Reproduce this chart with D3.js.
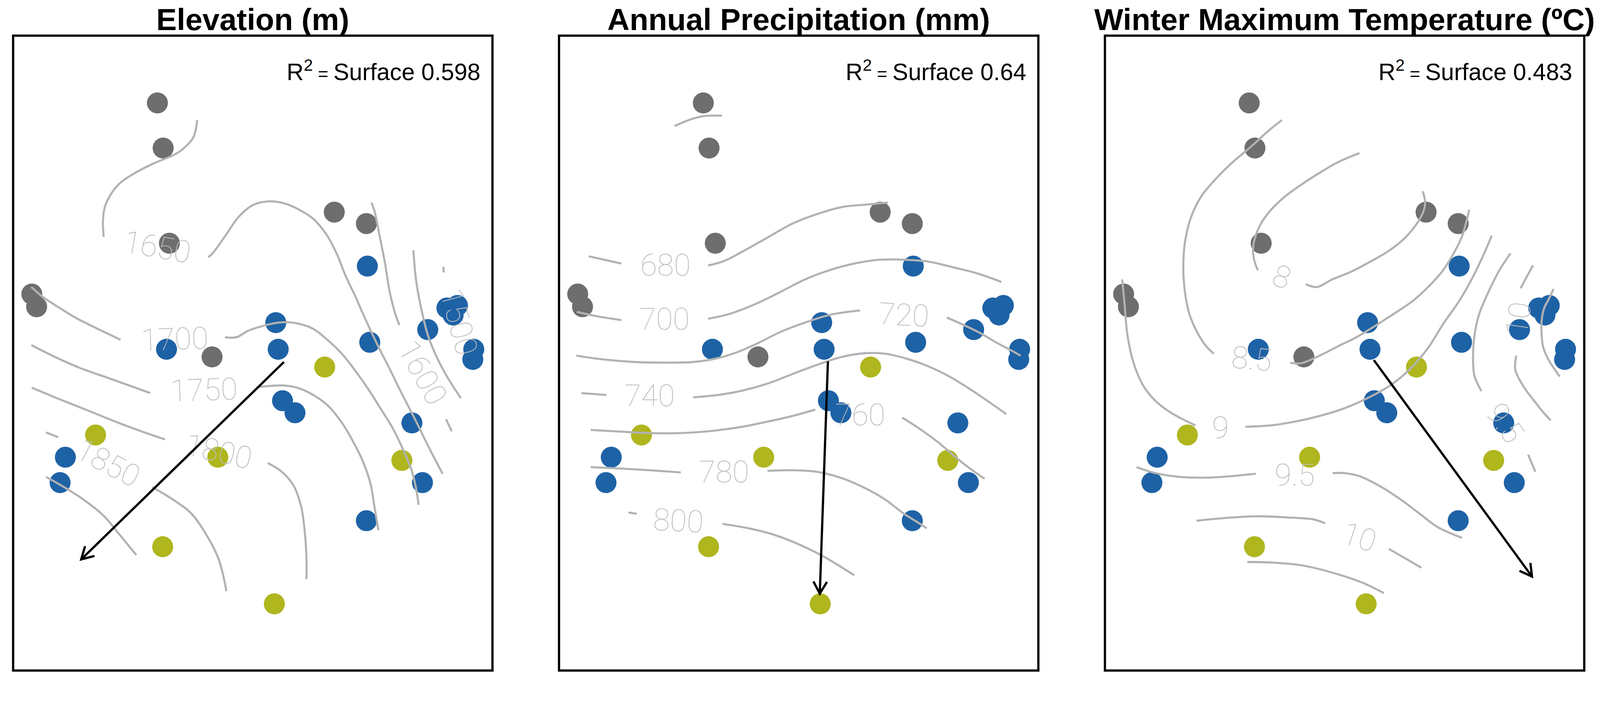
<!DOCTYPE html>
<html>
<head>
<meta charset="utf-8">
<script src="https://cdn.jsdelivr.net/npm/d3@7"></script>
<style>
  html, body { margin: 0; padding: 0; background: #fff; overflow: hidden; }
  svg { display: block; }
</style>
</head>
<body>
<div id="chart"></div>
<script>
// Site scores, in percent of the plot frame (x from left, y from top)
const grayPts = [[30.1,10.6],[31.3,17.7],[32.6,32.7],[3.9,40.7],[4.9,42.7],[41.5,50.6],[67.0,27.8],[73.7,29.6]];
const bluePts = [[73.9,36.3],[54.8,45.2],[55.3,49.4],[32.0,49.4],[74.4,48.3],[86.5,46.3],[90.5,42.9],[92.7,42.5],
                 [91.8,44.0],[96.1,49.4],[95.9,51.0],[56.2,57.5],[58.8,59.4],[83.2,61.0],[85.4,70.4],[73.7,76.4],
                 [10.9,66.4],[9.8,70.4]];
const olivePts = [[65.0,52.2],[17.2,62.9],[42.7,66.4],[81.1,66.9],[31.2,80.5],[54.5,89.5]];

const panelTitles = ["Elevation (m)", "Annual Precipitation (mm)", "Winter Maximum Temperature (ºC)"];
const r2Values = ["0.598", "0.64", "0.483"];
// fitted vector: [x0, y0, x1, y1]
const arrows = [[56.5,51.4,14.2,82.5],[56.1,51.3,54.4,87.9],[56.1,51.1,89.1,85.2]];

// ordisurf contours: level, line pieces, label [x, y, angle]
const elevContours = [
  { level: "1650", label: [30.1,33.3,10], pieces: [
    [[38.4,13.3],[37.6,16.0],[35.0,18.1],[33.2,18.9],[29.4,20.1],[25.5,21.6],[21.9,23.5],[19.3,26.6],[18.75,29.1],[18.9,31.7]],
    [[40.7,34.9],[41.6,34.3],[44.2,31.6],[47.1,28.5],[50.0,26.7],[53.3,26.1],[56.5,26.4],[59.4,27.3],[62.7,28.9],[65.6,31.6],
     [67.6,34.5],[69.4,37.9],[71.3,40.9],[73.1,44.0],[75.0,47.1],[76.8,49.9],[78.7,52.7],[80.5,55.5],[82.4,58.3],[84.3,61.1],
     [86.1,63.9],[88.0,66.7],[89.6,69.0]]]},
  { level: "1600", label: [85.4,53.1,61], pieces: [
    [[74.75,26.3],[75.35,27.5],[76.5,31.7],[77.6,35.9],[78.5,40.1],[79.6,43.5],[80.6,45.6]],
    [[90.3,60.4],[91.5,62.3]]]},
  { level: "1550", label: null, pieces: [
    [[83.5,33.8],[84.1,38.7],[85.2,43.2],[86.5,47.1],[88.3,50.5],[90.6,53.8],[93.4,57.1]]]},
  { level: "1500", label: [93.0,45.1,75], pieces: [
    [[89.8,36.4],[89.8,37.3]]]},
  { level: "1700", label: [33.7,47.8,-2], pieces: [
    [[3.8,39.6],[6.1,41.1],[9.3,42.7],[13.2,44.5],[17.7,46.2],[22.4,47.9]],
    [[44.2,47.5],[46.6,47.5],[49.0,46.5],[52.7,45.6],[55.3,45.2],[58.3,45.2],[62.4,46.1],[65.7,48.0],[68.7,50.2],[71.6,53.0],
     [74.2,55.8],[76.8,58.9],[79.1,61.7],[81.3,65.1],[83.1,68.4],[83.9,70.7],[84.6,73.9]]]},
  { level: "1750", label: [39.8,55.8,-2], pieces: [
    [[3.8,48.75],[8.7,50.6],[13.8,52.3],[19.0,53.7],[24.2,55.1],[28.6,56.3]],
    [[50.85,55.4],[53.1,55.2],[56.4,55.1],[59.0,55.4],[62.4,56.5],[65.7,58.3],[68.7,61.1],[70.9,63.9],[73.1,67.3],[74.6,70.7],
     [75.3,73.8],[76.2,77.9]]]},
  { level: "1800", label: [42.9,65.5,13], pieces: [
    [[3.9,55.45],[9.3,57.15],[15.8,59.1],[22.2,61.05],[27.4,62.5],[31.7,63.6]],
    [[53.1,67.3],[55.9,68.6],[58.45,70.8],[60.1,74.2],[60.9,78.6],[61.2,82.5],[61.2,85.6]]]},
  { level: "1850", label: [19.8,67.3,28], pieces: [
    [[6.85,62.5],[9.4,63.25]],
    [[29.0,71.1],[33.2,73.0],[37.1,75.2],[40.3,78.6],[42.9,82.5],[44.5,87.5]]]},
  { level: "1900", label: null, pieces: [
    [[6.85,69.5],[10.6,71.1],[15.1,73.3],[19.0,75.7],[22.2,78.6],[25.7,81.8]]]}
];

const precipContours = [
  { level: "660", label: null, pieces: [
    [[24.1,14.24],[26.7,13.4],[29.9,12.7],[34.0,12.6]]]},
  { level: "680", label: [22.2,36.1,0], pieces: [
    [[6.2,34.75],[13.0,35.9]],
    [[31.1,36.2],[34.4,35.5],[38.3,34.0],[43.5,31.8],[48.7,29.6],[53.85,28.1],[59.0,27.0],[64.2,26.6],[68.6,26.3]]]},
  { level: "700", label: [22.0,44.6,0], pieces: [
    [[3.7,43.5],[7.9,44.2],[13.0,44.8]],
    [[31.1,44.6],[35.7,43.8],[40.9,42.3],[46.1,40.4],[51.3,38.4],[56.4,36.95],[61.6,35.9],[66.8,35.3],[71.95,35.3],[77.1,35.6],
     [82.3,36.5],[87.5,37.5],[92.3,38.8]]]},
  { level: "720", label: [71.95,44.0,3], pieces: [
    [[3.6,50.4],[9.2,51.0],[15.7,51.4],[22.2,51.5],[28.0,51.4],[32.5,50.9],[37.0,49.9],[41.6,48.4],[46.1,46.7],[51.3,45.2],
     [56.4,44.0],[60.3,43.5],[62.8,43.3]],
    [[80.9,44.4],[84.2,45.5],[87.5,46.7],[91.4,48.4],[93.9,49.4],[96.3,50.4]]]},
  { level: "740", label: [18.9,56.7,0], pieces: [
    [[4.7,56.3],[9.9,56.6]],
    [[28.0,56.97],[33.2,56.6],[38.3,55.9],[43.5,54.8],[48.7,53.3],[53.85,51.85],[59.0,50.6],[64.2,50.0],[68.1,50.1],[72.6,50.9],
     [77.1,52.1],[81.7,53.8],[86.2,55.9],[90.1,57.9],[93.3,59.6]]]},
  { level: "760", label: [62.8,59.7,0], pieces: [
    [[6.6,62.1],[12.5,62.35],[18.9,62.6],[25.4,62.6],[31.9,62.25],[38.3,61.6],[43.5,60.8],[48.7,59.9],[53.5,58.9]],
    [[71.6,60.15],[75.2,61.9],[79.1,64.05],[82.9,66.5],[86.2,68.45],[88.8,69.8]]]},
  { level: "780", label: [34.4,68.7,0], pieces: [
    [[6.6,67.96],[15.7,68.3],[25.4,68.8]],
    [[43.5,68.55],[48.7,68.45],[53.85,68.7],[59.0,69.7],[64.2,71.4],[68.1,73.1],[71.95,75.3],[74.5,76.5],[76.7,77.6]]]},
  { level: "800", label: [24.9,76.4,3], pieces: [
    [[14.5,75.1],[16.2,75.3]],
    [[34.1,76.9],[39.6,77.6],[44.8,78.6],[49.96,80.1],[55.1,82.0],[61.6,85.0]]]}
];

const tempContours = [
  { level: "8.5", label: [30.6,50.9,5], pieces: [
    [[36.9,13.3],[33.8,15.2],[30.6,17.4],[26.7,19.9],[23.45,22.3],[20.2,25.2],[17.96,28.6],[16.7,32.55],[16.35,36.5],[16.7,40.4],
     [17.6,43.8],[18.9,46.2],[20.9,48.7],[22.7,50.1]],
    [[38.65,51.5],[40.9,51.6],[44.8,50.4],[48.7,48.9],[52.6,47.45],[56.4,45.7],[60.3,43.8],[64.2,41.8],[67.4,39.6],[70.3,37.2],
     [72.6,34.5],[74.5,31.6],[76.0,27.4]]]},
  { level: "8", label: [36.9,38.0,20], pieces: [
    [[53.1,18.5],[48.7,19.9],[44.8,21.6],[40.9,23.5],[37.0,25.7],[33.8,28.2],[31.9,30.6],[30.9,33.5],[31.2,35.5],[31.9,36.95]],
    [[41.9,39.15],[44.2,39.6],[47.4,38.4],[51.3,37.2],[55.1,35.7],[59.0,34.0],[62.25,32.1],[64.8,29.9],[66.45,27.7],[66.8,26.2],
     [66.3,24.5]]]},
  { level: "9", label: [24.1,61.7,0], pieces: [
    [[3.6,38.4],[4.1,42.3],[4.7,47.2],[6.0,51.6],[7.9,55.0],[10.5,57.5],[13.8,59.4],[18.9,61.4]],
    [[29.3,61.6],[34.45,61.4],[39.6,60.8],[44.8,59.9],[49.96,58.7],[55.1,56.97],[59.7,55.0],[63.55,52.6],[67.4,49.2],[70.7,45.25],
     [73.9,41.8],[76.5,38.4],[78.7,35.0],[80.7,31.5]]]},
  { level: "9.5", label: [83.5,61.0,55], pieces: [
    [[84.6,34.3],[82.3,36.95],[80.0,40.4],[78.1,43.8],[77.1,47.2],[76.8,51.1],[77.1,53.6],[78.55,56.0]],
    [[88.3,66.0],[89.8,68.7]]]},
  { level: "10", label: [86.3,44.6,-82], pieces: [
    [[89.3,36.2],[86.7,39.8]],
    [[85.8,50.4],[85.6,52.6],[86.5,54.2],[88.0,56.0],[90.0,57.95],[91.4,59.3],[93.0,60.6]]]},
  { level: "10.5", label: null, pieces: [
    [[93.6,39.9],[92.6,41.5],[91.6,43.0],[91.1,45.0],[91.1,47.0],[91.4,48.95],[92.3,50.7],[93.5,52.2],[94.9,53.7]]]},
  { level: "9.5", label: [39.6,69.2,0], pieces: [
    [[6.6,67.96],[10.5,68.9],[15.7,69.5],[22.2,69.6],[31.5,69.0]],
    [[47.5,68.9],[49.96,68.9],[53.2,69.4],[57.7,71.1],[61.6,73.0],[65.5,75.2],[69.4,77.4],[74.5,79.1]]]},
  { level: "10", label: [53.1,79.0,18], pieces: [
    [[19.1,76.4],[25.4,75.95],[31.9,75.7],[38.3,75.9],[43.5,76.2],[45.96,76.8]],
    [[59.2,80.84],[62.6,82.3],[66.0,83.8]]]},
  { level: "10.5", label: null, pieces: [
    [[29.7,82.9],[35.1,83.0],[41.6,83.5],[48.0,84.7],[53.85,86.2],[58.2,87.8]]]}
];

const panelContours = [elevContours, precipContours, tempContours];

// Layout (drawn in a 4266 x 1827 user space, scaled to the window width)
const W = 4266, H = 1827;
const frameW = 1278, frameTop = 95, frameBottom = 1787;
const panelStep = 1455.5, firstLeft = 35;

const svg = d3.select("#chart").append("svg")
  .attr("viewBox", `0 0 ${W} ${H}`)
  .attr("preserveAspectRatio", "xMidYMin meet")
  .style("width", "100vw")
  .style("height", "100vh")
  .style("background", "#fff");

// open V arrowhead
svg.append("defs").append("marker")
  .attr("id", "vhead")
  .attr("markerUnits", "userSpaceOnUse")
  .attr("viewBox", "-40 -25 50 50")
  .attr("refX", 0).attr("refY", 0)
  .attr("markerWidth", 50).attr("markerHeight", 50)
  .attr("orient", "auto")
  .append("path")
  .attr("d", "M-32,-18 L0,0 L-32,18")
  .attr("fill", "none")
  .attr("stroke", "#000")
  .attr("stroke-width", 6)
  .attr("stroke-linejoin", "miter");

const groups = [
  { pts: grayPts, color: "#6e6e6e" },
  { pts: bluePts, color: "#1e62a6" },
  { pts: olivePts, color: "#afb61e" }
];

panelContours.forEach((contours, i) => {
  const left = firstLeft + i * panelStep;
  const x = d3.scaleLinear().domain([0, 100]).range([left, left + frameW]);
  const y = d3.scaleLinear().domain([0, 100]).range([frameTop, frameBottom]);
  const g = svg.append("g");

  // sites
  groups.forEach(grp => {
    g.append("g").selectAll("circle")
      .data(grp.pts)
      .enter().append("circle")
      .attr("cx", d => x(d[0]))
      .attr("cy", d => y(d[1]))
      .attr("r", 28)
      .attr("fill", grp.color);
  });

  // contour lines
  const line = d3.line()
    .x(d => x(d[0]))
    .y(d => y(d[1]))
    .curve(d3.curveCatmullRom);

  contours.forEach(c => {
    c.pieces.forEach(p => {
      g.append("path")
        .attr("d", line(p))
        .attr("fill", "none")
        .attr("stroke", "#b2b2b2")
        .attr("stroke-width", 5.5)
        .attr("stroke-linecap", "butt");
    });
    if (c.label) {
      g.append("text")
        .attr("transform", `translate(${x(c.label[0])},${y(c.label[1])}) rotate(${c.label[2]})`)
        .attr("text-anchor", "middle")
        .attr("dominant-baseline", "central")
        .style("font-family", "Roboto, 'DejaVu Sans', sans-serif")
        .style("font-weight", 100)
        .style("font-size", "82px")
        .style("fill", "#bdbdbd")
        .text(c.level);
    }
  });

  // fitted vector
  const a = arrows[i];
  g.append("line")
    .attr("x1", x(a[0])).attr("y1", y(a[1]))
    .attr("x2", x(a[2])).attr("y2", y(a[3]))
    .attr("stroke", "#000")
    .attr("stroke-width", 6)
    .attr("marker-end", "url(#vhead)");

  // frame
  g.append("rect")
    .attr("x", left).attr("y", frameTop)
    .attr("width", frameW).attr("height", frameBottom - frameTop)
    .attr("fill", "none")
    .attr("stroke", "#000")
    .attr("stroke-width", 6);

  // R squared
  const r2 = g.append("text")
    .attr("x", left + frameW - 32)
    .attr("y", 213)
    .attr("text-anchor", "end")
    .style("font-family", "'Liberation Sans', Arial, sans-serif")
    .style("font-size", "63px")
    .style("fill", "#000");
  r2.append("tspan").text("R");
  r2.append("tspan").attr("dy", -25).style("font-size", "44px").text("2");
  r2.append("tspan").attr("dy", 25).style("font-size", "48px").text(" = ");
  r2.append("tspan").text("Surface " + r2Values[i]);

  // title
  g.append("text")
    .attr("x", left + frameW / 2)
    .attr("y", 80)
    .attr("text-anchor", "middle")
    .style("font-family", "'Liberation Sans', Arial, sans-serif")
    .style("font-weight", "bold")
    .style("font-size", "82px")
    .style("fill", "#000")
    .text(panelTitles[i]);
});
</script>
</body>
</html>
